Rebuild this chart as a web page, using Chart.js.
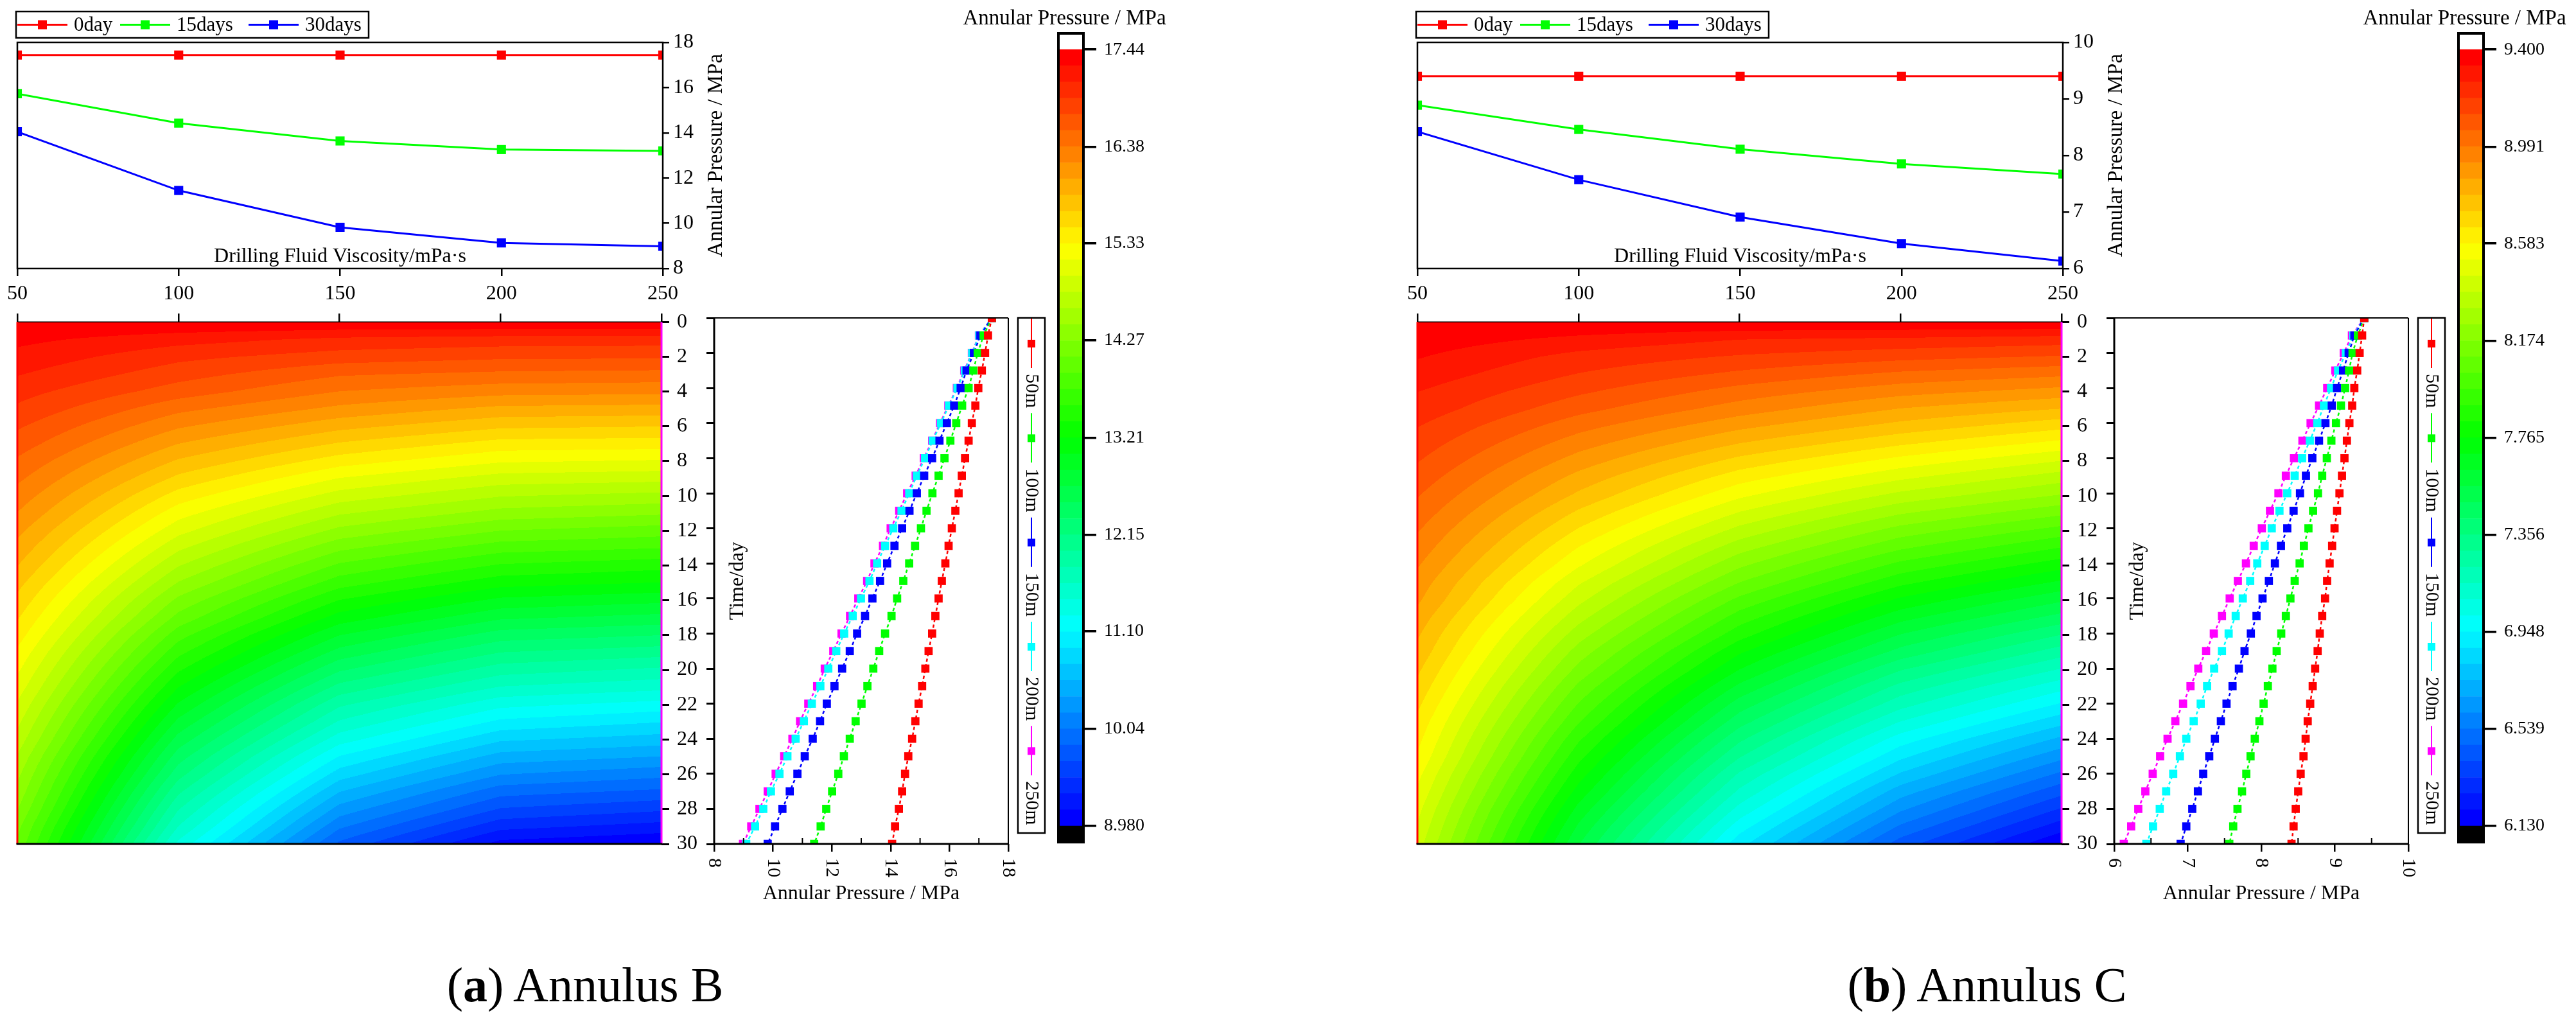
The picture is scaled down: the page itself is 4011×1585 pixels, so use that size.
<!DOCTYPE html>
<html lang="en">
<head>
<meta charset="UTF-8">
<title>Annular pressure vs drilling fluid viscosity</title>
<script src="https://cdn.jsdelivr.net/npm/chart.js@4.4.1/dist/chart.umd.min.js"></script>
<style>
    html, body { margin: 0; padding: 0; background: #fff; overflow: hidden; }
    #page { position: relative; width: 4011px; height: 1585px; overflow: hidden; background: #fff; }
    canvas { position: absolute; }
    .caption { position: absolute; top: 1495px; line-height: 76px; font-family: 'Liberation Serif', serif;
               font-size: 76px; white-space: nowrap; transform: translateX(-50%); color: #000; }
</style>
</head>
<body>
<div id="page">
    <div class="caption" style="left:911px">(<b>a</b>) Annulus B</div>
    <div class="caption" style="left:3094px">(<b>b</b>) Annulus C</div>
</div>
<script>
// ---- data ----
const viscosity = [50, 100, 150, 200, 250];
const days = [0, 1, 2, 3, 4, 5, 6, 7, 8, 9, 10, 11, 12, 13, 14, 15, 16, 17, 18, 19, 20,
              21, 22, 23, 24, 25, 26, 27, 28, 29, 30];
const timeLabels = ['0day', '15days', '30days'];
const depthLabels = ['50m', '100m', '150m', '200m', '250m'];

// (a) Annulus B
const aVisc0day = [17.44, 17.44, 17.44, 17.44, 17.44];
const aVisc15days = [15.73, 14.43, 13.64, 13.26, 13.20];
const aVisc30days = [14.05, 11.45, 9.82, 9.13, 8.98];
const aP50m = [17.44, 17.31, 17.21, 17.10, 16.98, 16.88, 16.76, 16.65, 16.53, 16.42, 16.31,
               16.20, 16.08, 15.97, 15.86, 15.74, 15.63, 15.52, 15.41, 15.29, 15.18,
               15.07, 14.95, 14.84, 14.73, 14.60, 14.49, 14.39, 14.28, 14.15, 14.05];
const aP100m = [17.44, 17.16, 16.96, 16.81, 16.65, 16.43, 16.23, 16.03, 15.83, 15.63, 15.42,
                15.22, 15.03, 14.83, 14.63, 14.43, 14.22, 14.03, 13.81, 13.61, 13.41,
                13.21, 13.01, 12.81, 12.61, 12.41, 12.22, 12.01, 11.81, 11.62, 11.40];
const aP150m = [17.44, 17.05, 16.83, 16.58, 16.38, 16.16, 15.91, 15.66, 15.41, 15.14, 14.89,
                14.64, 14.39, 14.13, 13.88, 13.64, 13.38, 13.13, 12.86, 12.61, 12.35,
                12.09, 11.83, 11.60, 11.35, 11.08, 10.83, 10.57, 10.32, 10.07, 9.82];
const aP200m = [17.44, 17.01, 16.77, 16.52, 16.27, 15.98, 15.71, 15.43, 15.17, 14.89, 14.63,
                14.37, 14.09, 13.81, 13.54, 13.28, 12.99, 12.71, 12.42, 12.15, 11.88,
                11.61, 11.32, 11.05, 10.77, 10.49, 10.22, 9.93, 9.67, 9.39, 9.09];
const aP250m = [17.44, 17.00, 16.76, 16.50, 16.25, 15.96, 15.68, 15.41, 15.13, 14.85, 14.56,
                14.29, 14.00, 13.74, 13.45, 13.20, 12.90, 12.62, 12.33, 12.05, 11.76,
                11.50, 11.20, 10.92, 10.66, 10.38, 10.09, 9.82, 9.54, 9.26, 8.98];
const aBarLabels = ['8.980', '10.04', '11.10', '12.15', '13.21', '14.27', '15.33', '16.38', '17.44'];

// (b) Annulus C
const bVisc0day = [9.40, 9.40, 9.40, 9.40, 9.40];
const bVisc15days = [8.89, 8.46, 8.11, 7.85, 7.67];
const bVisc30days = [8.42, 7.57, 6.91, 6.44, 6.13];
const bP50m = [9.400, 9.371, 9.337, 9.304, 9.265, 9.236, 9.198, 9.164, 9.131, 9.097, 9.063,
               9.030, 8.996, 8.963, 8.929, 8.895, 8.867, 8.828, 8.795, 8.766, 8.732,
               8.699, 8.665, 8.631, 8.603, 8.574, 8.535, 8.502, 8.468, 8.439, 8.411];
const bP100m = [9.400, 9.313, 9.241, 9.193, 9.140, 9.083, 9.016, 8.953, 8.891, 8.828, 8.771,
                8.704, 8.641, 8.579, 8.521, 8.454, 8.396, 8.334, 8.271, 8.209, 8.151,
                8.089, 8.031, 7.974, 7.911, 7.854, 7.796, 7.738, 7.676, 7.618, 7.565];
const bP150m = [9.400, 9.265, 9.188, 9.112, 9.030, 8.958, 8.872, 8.785, 8.694, 8.607, 8.526,
                8.439, 8.353, 8.267, 8.185, 8.103, 8.017, 7.935, 7.858, 7.772, 7.695,
                7.609, 7.527, 7.450, 7.369, 7.292, 7.210, 7.138, 7.061, 6.980, 6.903];
const bP200m = [9.400, 9.251, 9.150, 9.044, 8.948, 8.852, 8.761, 8.660, 8.555, 8.454, 8.353,
                8.247, 8.142, 8.046, 7.945, 7.849, 7.748, 7.652, 7.556, 7.465, 7.359,
                7.263, 7.176, 7.080, 6.980, 6.893, 6.802, 6.706, 6.619, 6.528, 6.437];
const bP250m = [9.400, 9.232, 9.121, 9.006, 8.896, 8.785, 8.670, 8.559, 8.444, 8.334, 8.233,
                8.118, 8.007, 7.897, 7.791, 7.681, 7.570, 7.465, 7.354, 7.249, 7.143,
                7.037, 6.936, 6.831, 6.725, 6.624, 6.523, 6.423, 6.327, 6.230, 6.130];
const bBarLabels = ['6.130', '6.539', '6.948', '7.356', '7.765', '8.174', '8.583', '8.991', '9.400'];

// ---- styling ----
const FONT = "'Liberation Serif', 'Times New Roman', serif";
const seriesColors = ['#ff0000', '#00ff00', '#0000ff', '#00ffff', '#ff00ff'];
const NBANDS = 48;

Chart.defaults.font.family = FONT;
Chart.defaults.color = '#000';
Chart.defaults.animation = false;
Chart.defaults.plugins.legend.display = false;
Chart.defaults.plugins.tooltip.enabled = false;

const page = document.getElementById('page');

// rainbow map, hue 0 (red) .. 240 (blue)
function rainbow(h) {
    const x = 1 - Math.abs((h / 60) % 2 - 1);
    if (h < 60) return [255, Math.round(x * 255), 0];
    if (h < 120) return [Math.round(x * 255), 255, 0];
    if (h < 180) return [0, 255, Math.round(x * 255)];
    return [0, Math.round(x * 255), 255];
}
// band 0 = lowest (blue), band NBANDS-1 = highest (red)
const bandRGB = [];
for (let k = 0; k < NBANDS; k++) bandRGB.push(rainbow(240 * (NBANDS - 1 - k) / (NBANDS - 1)));
const bandCSS = bandRGB.map(c => `rgb(${c[0]},${c[1]},${c[2]})`);

function makeCanvas(left, top, w, h) {
    const c = document.createElement('canvas');
    c.width = w; c.height = h;
    c.style.left = left + 'px'; c.style.top = top + 'px';
    c.style.width = w + 'px'; c.style.height = h + 'px';
    page.appendChild(c);
    return c.getContext('2d');
}

function line(ctx, x0, y0, x1, y1) {
    ctx.beginPath(); ctx.moveTo(x0, y0); ctx.lineTo(x1, y1); ctx.stroke();
}

// bilinear value between the viscosity columns and the day rows
function heatValue(cols, v, t) {
    let i = 0;
    while (i < viscosity.length - 2 && v > viscosity[i + 1]) i++;
    const wx = (v - viscosity[i]) / (viscosity[i + 1] - viscosity[i]);
    const j = Math.max(0, Math.min(Math.floor(t), days.length - 2));
    const wt = (t - days[j]) / (days[j + 1] - days[j]);
    const lo = cols[i][j] + (cols[i][j + 1] - cols[i][j]) * wt;
    const hi = cols[i + 1][j] + (cols[i + 1][j + 1] - cols[i + 1][j]) * wt;
    return lo + (hi - lo) * wx;
}

// ---- top: pressure vs viscosity ----
function topChart(p) {
    const ctx = makeCanvas(p.ox, 0, 1200, 470);
    const legendOffsets = [2, 162, 362];
    new Chart(ctx, {
        type: 'line',
        data: {
            datasets: p.top.map((s, i) => ({
                label: timeLabels[i],
                data: viscosity.map((v, k) => ({ x: v, y: s[k] })),
                borderColor: seriesColors[i], backgroundColor: seriesColors[i],
                borderWidth: 3, pointStyle: 'rect', pointRadius: 10, pointBorderWidth: 0, clip: 0
            }))
        },
        options: {
            responsive: false, devicePixelRatio: 1,
            layout: { padding: { left: 27, top: 66, right: 0, bottom: 0 } },
            scales: {
                x: {
                    type: 'linear', min: 50, max: 250,
                    ticks: { stepSize: 50, font: { size: 32 }, padding: 8 },
                    grid: { drawOnChartArea: false, tickLength: 12, color: '#000', lineWidth: 2.5 },
                    border: { display: false },
                    afterFit: s => { s.height = 52; }
                },
                y: {
                    position: 'right', min: p.topMin, max: p.topMax,
                    ticks: { stepSize: p.topStep, font: { size: 32 }, padding: 6 },
                    grid: { drawOnChartArea: false, tickLength: 10, color: '#000', lineWidth: 2.5 },
                    border: { display: false },
                    afterFit: s => { s.width = 168; }
                }
            }
        },
        plugins: [{
            id: 'topDecor',
            afterDraw(chart) {
                const { ctx, chartArea: a } = chart;
                ctx.save();
                ctx.strokeStyle = '#000'; ctx.lineWidth = 2.5;
                ctx.strokeRect(a.left, a.top, a.right - a.left, a.bottom - a.top);
                ctx.fillStyle = '#000';
                ctx.font = '32px ' + FONT;
                ctx.textAlign = 'center'; ctx.textBaseline = 'middle';
                ctx.fillText('Drilling Fluid Viscosity/mPa·s', (a.left + a.right) / 2, a.bottom - 18);
                ctx.save();
                ctx.translate(a.right + 83, (a.top + a.bottom) / 2);
                ctx.rotate(-Math.PI / 2);
                ctx.font = '33px ' + FONT;
                ctx.fillText('Annular Pressure / MPa', 0, 0);
                ctx.restore();

                // legend box
                const lx = 25, ly = 18, lw = 549, lh = 41, cy = ly + lh / 2;
                ctx.lineWidth = 2.5; ctx.strokeRect(lx, ly, lw, lh);
                ctx.font = '31px ' + FONT; ctx.textAlign = 'left';
                chart.data.datasets.forEach((ds, i) => {
                    const x0 = lx + legendOffsets[i];
                    ctx.strokeStyle = ds.borderColor; ctx.lineWidth = 3;
                    line(ctx, x0, cy, x0 + 78, cy);
                    ctx.fillStyle = ds.borderColor;
                    ctx.fillRect(x0 + 32, cy - 7, 14, 14);
                    ctx.fillStyle = '#000';
                    ctx.fillText(ds.label, x0 + 88, cy + 1);
                });
                ctx.restore();
            }
        }]
    });
}

// ---- contour map: viscosity x time ----
function heatChart(p) {
    const ctx = makeCanvas(p.ox, 470, 1112, 880);
    const vmin = parseFloat(p.bar[0]), vmax = parseFloat(p.bar[p.bar.length - 1]);
    const band = (vmax - vmin) / NBANDS;
    new Chart(ctx, {
        type: 'scatter',
        data: { datasets: [] },
        options: {
            responsive: false, devicePixelRatio: 1,
            layout: { padding: { left: 27, top: 0, right: 0, bottom: 36 } },
            scales: {
                x: {
                    type: 'linear', position: 'top', min: viscosity[0], max: viscosity[viscosity.length - 1],
                    ticks: { display: false, stepSize: 50 },
                    grid: { drawOnChartArea: false, tickLength: 13, color: '#000', lineWidth: 2.5 },
                    border: { display: false },
                    afterFit: s => { s.height = 25; }
                },
                y: {
                    type: 'linear', position: 'right', reverse: true, min: 0, max: 30,
                    ticks: { stepSize: 2, font: { size: 32 }, padding: 12 },
                    grid: { drawOnChartArea: false, tickLength: 12, color: '#000', lineWidth: 3 },
                    border: { display: false },
                    afterFit: s => { s.width = 82; }
                }
            }
        },
        plugins: [{
            id: 'heat',
            beforeDatasetsDraw(chart) {
                const { ctx, chartArea: a, scales: { x, y } } = chart;
                const L = Math.round(a.left), T = Math.round(a.top);
                const W = Math.round(a.right) - L, H = Math.round(a.bottom) - T;
                const img = ctx.createImageData(W, H);
                const vx = [], ty = [];
                for (let i = 0; i < W; i++) vx.push(x.getValueForPixel(L + i + 0.5));
                for (let j = 0; j < H; j++) ty.push(y.getValueForPixel(T + j + 0.5));
                for (let j = 0; j < H; j++) {
                    for (let i = 0; i < W; i++) {
                        const val = heatValue(p.lines, vx[i], ty[j]);
                        const k = Math.max(0, Math.min(NBANDS - 1, Math.floor((val - vmin) / band)));
                        const c = bandRGB[k], o = (j * W + i) * 4;
                        img.data[o] = c[0]; img.data[o + 1] = c[1]; img.data[o + 2] = c[2]; img.data[o + 3] = 255;
                    }
                }
                ctx.putImageData(img, L, T);
            },
            afterDraw(chart) {
                const { ctx, chartArea: a } = chart;
                ctx.save();
                ctx.lineWidth = 1.5; ctx.strokeStyle = '#000';
                line(ctx, a.left, a.top, a.right, a.top);
                ctx.lineWidth = 3;
                ctx.strokeStyle = '#ff0000'; line(ctx, a.left, a.top, a.left, a.bottom);
                ctx.strokeStyle = '#ff00ff'; line(ctx, a.right, a.top, a.right, a.bottom);
                ctx.strokeStyle = '#000'; line(ctx, a.left - 1.5, a.bottom, a.right + 1.5, a.bottom);
                ctx.restore();
            }
        }]
    });
}

// ---- right: pressure profile over time for each curve ----
function depthChart(p) {
    const ctx = makeCanvas(p.ox + 1040, 470, 600, 950);
    new Chart(ctx, {
        type: 'line',
        data: {
            datasets: p.lines.map((s, i) => ({
                label: depthLabels[i],
                data: days.map((d, k) => ({ x: s[k], y: d })),
                borderColor: seriesColors[i], backgroundColor: seriesColors[i],
                borderWidth: 2.5, borderDash: [5, 4],
                pointStyle: 'rect', pointRadius: 9, pointBorderWidth: 0, clip: 0
            }))
        },
        options: {
            responsive: false, devicePixelRatio: 1,
            layout: { padding: { left: 0, top: 25, right: 70, bottom: 0 } },
            scales: {
                x: {
                    type: 'linear', min: p.pMin, max: p.pMax,
                    ticks: { display: false, stepSize: p.pStep },
                    grid: { drawOnChartArea: false, tickLength: 12, color: '#000', lineWidth: 2.5 },
                    border: { display: false },
                    afterFit: s => { s.height = 106; }
                },
                y: {
                    type: 'linear', position: 'left', reverse: true, min: 0, max: 30,
                    ticks: { display: false, stepSize: 2 },
                    grid: { drawOnChartArea: false, tickLength: 12, color: '#000', lineWidth: 3 },
                    border: { display: false },
                    afterFit: s => { s.width = 72; }
                }
            }
        },
        plugins: [{
            id: 'depthDecor',
            afterDraw(chart) {
                const { ctx, chartArea: a, scales: { x } } = chart;
                ctx.save();
                ctx.strokeStyle = '#000';
                ctx.lineWidth = 3;
                line(ctx, a.left, a.top, a.left, a.bottom + 1.5);
                line(ctx, a.left, a.bottom, a.right + 1, a.bottom);
                ctx.lineWidth = 2;
                line(ctx, a.left, a.top, a.right, a.top);
                line(ctx, a.right, a.top, a.right, a.bottom);
                // minor ticks, pointing in
                for (let v = p.pMin + p.pStep / 2; v < p.pMax; v += p.pStep) {
                    const px = x.getPixelForValue(v);
                    line(ctx, px, a.bottom, px, a.bottom - 9);
                }
                // tick labels turned a quarter clockwise
                ctx.fillStyle = '#000';
                ctx.font = '30px ' + FONT;
                ctx.textAlign = 'left'; ctx.textBaseline = 'middle';
                x.ticks.forEach(t => {
                    ctx.save();
                    ctx.translate(x.getPixelForValue(t.value), a.bottom + 22);
                    ctx.rotate(Math.PI / 2);
                    ctx.fillText(String(t.value), 0, 0);
                    ctx.restore();
                });
                ctx.font = '32px ' + FONT;
                ctx.textAlign = 'center';
                ctx.fillText('Annular Pressure / MPa', (a.left + a.right) / 2, a.bottom + 78);
                ctx.save();
                ctx.translate(a.left + 37, (a.top + a.bottom) / 2);
                ctx.rotate(-Math.PI / 2);
                ctx.fillText('Time/day', 0, 0);
                ctx.restore();

                // vertical legend
                const bx = a.right + 15, bw = 42, by = a.top, bh = 802, cx = bx + bw / 2;
                ctx.lineWidth = 2.5; ctx.strokeRect(bx, by, bw, bh);
                ctx.font = '30px ' + FONT;
                ctx.textAlign = 'left';
                let y = by + 1;
                chart.data.datasets.forEach(ds => {
                    ctx.strokeStyle = ds.borderColor; ctx.lineWidth = 2;
                    line(ctx, cx, y, cx, y + 77);
                    ctx.fillStyle = ds.borderColor;
                    ctx.fillRect(cx - 6, y + 33, 12, 12);
                    ctx.fillStyle = '#000';
                    ctx.save();
                    ctx.translate(cx, y + 86);
                    ctx.rotate(Math.PI / 2);
                    ctx.fillText(ds.label, 0, 0);
                    ctx.restore();
                    y += 86 + ctx.measureText(ds.label).width + 8;
                });
                ctx.restore();
            }
        }]
    });
}

// ---- colour scale ----
function colorbarChart(p) {
    const ctx = makeCanvas(p.ox + 1460, 0, 540, 1340);
    const vmin = parseFloat(p.bar[0]), vmax = parseFloat(p.bar[p.bar.length - 1]);
    const band = (vmax - vmin) / NBANDS;
    const bar = (lo, hi, color) => ({
        data: [[lo, hi]], backgroundColor: color, borderWidth: 0,
        grouped: false, barPercentage: 1, categoryPercentage: 1
    });
    const datasets = [bar(vmin - band, vmin, '#000')];
    for (let k = 0; k < NBANDS; k++) datasets.push(bar(vmin + k * band, vmin + (k + 1) * band, bandCSS[k]));
    datasets.push(bar(vmax, vmax + band, '#fff'));
    new Chart(ctx, {
        type: 'bar',
        data: { labels: [''], datasets },
        options: {
            responsive: false, devicePixelRatio: 1,
            layout: { padding: { left: 188, top: 52, right: 0, bottom: 24 } },
            scales: {
                x: { display: false },
                y: {
                    position: 'right', min: vmin - band, max: vmax + band,
                    afterBuildTicks: s => { s.ticks = p.bar.map(l => ({ value: parseFloat(l) })); },
                    ticks: { font: { size: 28 }, padding: 12, callback: (v, i) => p.bar[i] },
                    grid: { drawOnChartArea: false, tickLength: 20, color: '#000', lineWidth: 3.5 },
                    border: { display: false },
                    afterFit: s => { s.width = 313; }
                }
            }
        },
        plugins: [{
            id: 'cbDecor',
            afterDraw(chart) {
                const { ctx, chartArea: a } = chart;
                ctx.save();
                ctx.strokeStyle = '#000'; ctx.lineWidth = 4;
                ctx.strokeRect(a.left, a.top, a.right - a.left, a.bottom - a.top);
                ctx.fillStyle = '#000';
                ctx.font = '33px ' + FONT;
                ctx.textAlign = 'center'; ctx.textBaseline = 'alphabetic';
                ctx.fillText('Annular Pressure / MPa', (a.left + a.right) / 2 - 10, 38);
                ctx.restore();
            }
        }]
    });
}

const panelA = {
    ox: 0, top: [aVisc0day, aVisc15days, aVisc30days], topMin: 8, topMax: 18, topStep: 2,
    lines: [aP50m, aP100m, aP150m, aP200m, aP250m], pMin: 8, pMax: 18, pStep: 2, bar: aBarLabels
};
const panelB = {
    ox: 2180, top: [bVisc0day, bVisc15days, bVisc30days], topMin: 6, topMax: 10, topStep: 1,
    lines: [bP50m, bP100m, bP150m, bP200m, bP250m], pMin: 6, pMax: 10, pStep: 1, bar: bBarLabels
};

[panelA, panelB].forEach(p => {
    heatChart(p);
    depthChart(p);
    topChart(p);
    colorbarChart(p);
});
</script>
</body>
</html>
